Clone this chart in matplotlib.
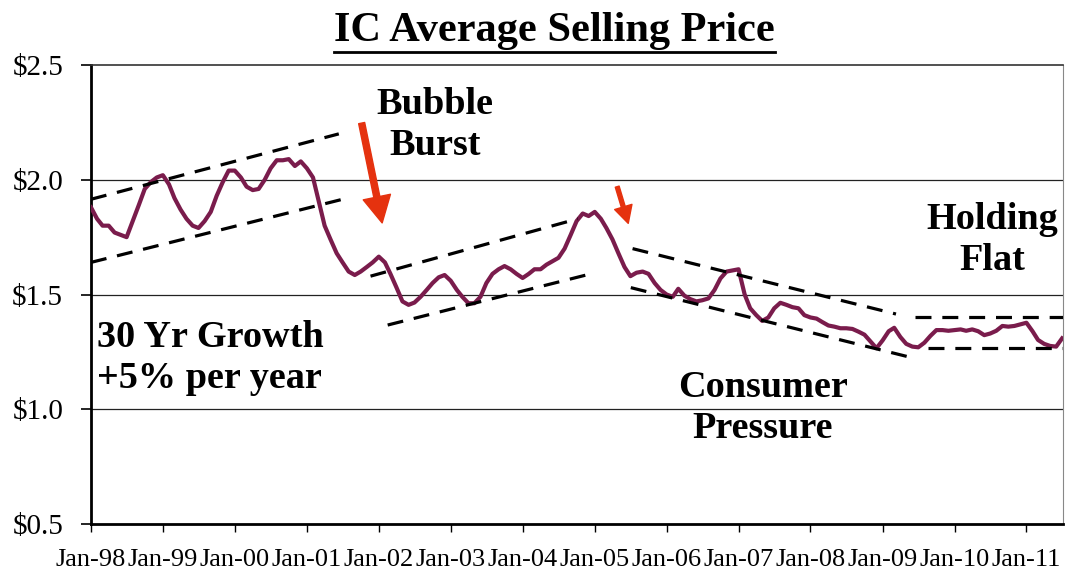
import matplotlib
matplotlib.use("Agg")
import matplotlib.pyplot as plt
import pandas as pd
from matplotlib.lines import Line2D

plt.rcParams['font.family'] = ['Liberation Serif', 'DejaVu Serif']

# monthly IC average selling price, Jan-98 .. Jul-11
asp = [
    1.88, 1.83, 1.80, 1.80, 1.77, 1.76, 1.75, 1.82, 1.89, 1.96, 1.99, 2.01,   # 1998
    2.02, 1.98, 1.92, 1.87, 1.83, 1.80, 1.79, 1.82, 1.86, 1.93, 1.99, 2.04,   # 1999
    2.04, 2.01, 1.97, 1.955, 1.96, 2.00, 2.05, 2.085, 2.085, 2.09, 2.06, 2.08,  # 2000
    2.05, 2.01, 1.91, 1.80, 1.74, 1.68, 1.64, 1.60, 1.585, 1.60, 1.62, 1.64,  # 2001
    1.665, 1.64, 1.59, 1.53, 1.47, 1.455, 1.465, 1.49, 1.52, 1.55, 1.575, 1.585,  # 2002
    1.56, 1.52, 1.49, 1.462, 1.462, 1.49, 1.55, 1.59, 1.61, 1.624, 1.61, 1.59,  # 2003
    1.572, 1.59, 1.61, 1.61, 1.63, 1.645, 1.66, 1.70, 1.76, 1.82, 1.853, 1.842,  # 2004
    1.86, 1.83, 1.79, 1.74, 1.68, 1.62, 1.58, 1.595, 1.60, 1.59, 1.55, 1.52,  # 2005
    1.50, 1.49, 1.525, 1.495, 1.48, 1.47, 1.475, 1.483, 1.52, 1.57, 1.60, 1.605,  # 2006
    1.61, 1.50, 1.44, 1.41, 1.385, 1.40, 1.44, 1.464, 1.455, 1.445, 1.44, 1.41,  # 2007
    1.40, 1.395, 1.38, 1.365, 1.36, 1.353, 1.353, 1.35, 1.338, 1.325, 1.295, 1.266,  # 2008
    1.30, 1.34, 1.355, 1.315, 1.285, 1.273, 1.270, 1.29, 1.32, 1.345, 1.345, 1.342,  # 2009
    1.345, 1.348, 1.342, 1.348, 1.34, 1.323, 1.33, 1.342, 1.363, 1.36, 1.363, 1.37,  # 2010
    1.377, 1.34, 1.302, 1.285, 1.276, 1.273, 1.309,                              # 2011
]
dates = pd.date_range('1998-01-01', periods=len(asp), freq='MS')

# hand-drawn trend channels (start, end) as (date, price)
ch1_upper = [('1998-01-01', 1.915), ('2001-06-12', 2.20)]
ch1_lower = [('1998-01-01', 1.64), ('2001-07-01', 1.915)]
ch2_upper = [('2001-11-20', 1.58), ('2004-10-07', 1.83)]
ch2_lower = [('2002-02-15', 1.367), ('2004-12-21', 1.592)]
ch3_upper = [('2005-07-12', 1.70), ('2009-03-10', 1.415)]
ch3_lower = [('2005-07-03', 1.53), ('2009-06-21', 1.22)]
flat_upper = [('2009-06-12', 1.40), ('2011-07-05', 1.40)]
flat_lower = [('2009-08-18', 1.266), ('2011-07-05', 1.266)]
channels = [ch1_upper, ch1_lower, ch2_upper, ch2_lower,
            ch3_upper, ch3_lower, flat_upper, flat_lower]

# red arrows: (tail, tip)
big_arrow = [('2001-10-06', 2.247), ('2002-01-18', 1.812)]
small_arrow = [('2005-04-25', 1.97), ('2005-06-20', 1.81)]

notes = [
    ('Bubble\nBurst', '2002-10-15', 2.239, 'center'),
    ('30 Yr Growth\n+5% per year', '1998-02-01', 1.223, 'left'),
    ('Consumer\nPressure', '2007-05-05', 1.005, 'center'),
    ('Holding\nFlat', '2010-07-10', 1.737, 'center'),
]

yticks = [0.5, 1.0, 1.5, 2.0, 2.5]
xtick_years = list(range(1998, 2012))

fig = plt.figure(figsize=(10.65, 5.78), dpi=100)
ax = fig.add_axes([0.0854, 0.0934, 0.9126, 0.7941])

for y in [1.0, 1.5, 2.0]:
    ax.axhline(y, color='#222222', lw=0.9, zorder=1)

ax.plot(dates, asp, color='#7a1c4c', lw=3.0, solid_joinstyle='round', zorder=3)

for seg in channels:
    xs = [pd.Timestamp(p[0]) for p in seg]
    ys = [p[1] for p in seg]
    ax.plot(xs, ys, color='black', lw=2.3, dashes=(5, 3.4), zorder=4)

for arr, ms, tw in [(big_arrow, 20, 0.22), (small_arrow, 13, 0.22)]:
    ax.annotate('', xy=(pd.Timestamp(arr[1][0]), arr[1][1]),
                xytext=(pd.Timestamp(arr[0][0]), arr[0][1]),
                arrowprops=dict(arrowstyle=f'simple,head_width=1.0,head_length=0.95,tail_width={tw}',
                                color='#e5320f', shrinkA=0, shrinkB=0,
                                mutation_scale=ms),
                zorder=5)

for txt, d, v, ha in notes:
    ax.text(pd.Timestamp(d), v, txt, ha=ha, va='center', fontsize=27.5,
            fontweight='bold', linespacing=1.2, zorder=6)

ax.set_ylim(0.5, 2.5)
ax.set_xlim(dates[0], dates[-1] + pd.Timedelta(days=4))
ax.set_yticks(yticks)
ax.set_yticklabels([f'${v:.1f}' for v in yticks], fontsize=21)
xt = [pd.Timestamp(f'{y}-01-01') for y in xtick_years]
ax.set_xticks(xt)
ax.set_xticklabels([t.strftime('Jan-%y') for t in xt], fontsize=19)
ax.tick_params(axis='y', length=7, width=1.2, pad=13)
ax.tick_params(axis='x', length=6, width=1, pad=12)

ax.spines['left'].set_linewidth(2)
ax.spines['bottom'].set_linewidth(2)
ax.spines['top'].set_linewidth(1.2)
ax.spines['top'].set_color('#333333')
ax.spines['right'].set_linewidth(0.8)
ax.spines['right'].set_color('#888888')

title = fig.text(0.521, 1 - 31 / 578, 'IC Average Selling Price', ha='center',
                 va='center', fontsize=30.5, fontweight='bold')
fig.canvas.draw()
bb = title.get_window_extent().transformed(fig.transFigure.inverted())
fig.add_artist(Line2D([bb.x0, bb.x1], [bb.y0 - 0.003, bb.y0 - 0.003],
                      color='black', lw=2, transform=fig.transFigure))

fig.savefig('out.png', dpi=100)
